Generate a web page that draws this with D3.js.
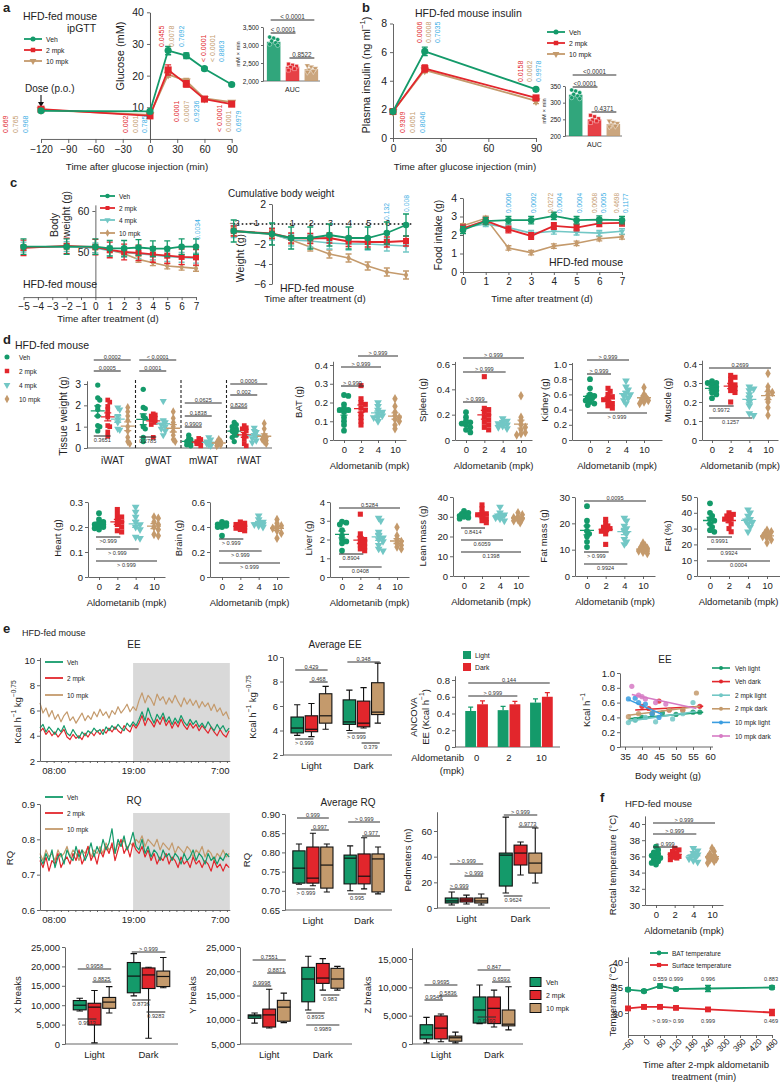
<!DOCTYPE html>
<html>
<head>
<meta charset="utf-8">
<script src="https://cdn.jsdelivr.net/npm/d3@7"></script>
<style>
  body { margin: 0; background: #fff; }
  svg { display: block; }
</style>
</head>
<body>
<script>
// ================= data =================
// a  ipGTT (glucose, mM)
const gttTime = [-120, 0, 20, 40, 60, 90]
const gttVeh = [8.9, 8.7, 27.9, 26.3, 22.2, 17.2]
const gttVehSem = [0.4, 0.4, 1.3, 0.9, 0.5, 0.4]
const gttMpk2 = [9.4, 7.3, 21.8, 17.4, 12.6, 11.0]
const gttMpk2Sem = [0.5, 0.4, 1.6, 1.0, 0.6, 0.6]
const gttMpk10 = [9.2, 7.6, 20.4, 18.3, 12.8, 11.6]
const gttMpk10Sem = [0.4, 0.4, 0.9, 0.8, 0.5, 0.5]
const gttPvals = [
  ['0.669', '0.765', '0.968'], ['0.002', '0.001', '0.785'], ['0.0455', '0.0078', '0.7692'],
  ['0.0001', '0.0007', '0.9236'], ['< 0.0001', '< 0.0001', '0.8863'], ['< 0.0001', '0.0001', '0.6979']
]
const aucGroups = ['Veh', '2 mpk', '10 mpk']
const aucGluMean = [3090, 2400, 2330]
const aucGluPts = [[3220, 3190, 3150, 3110, 3060, 3020, 2990], [2470, 2440, 2410, 2380, 2340, 2300], [2430, 2390, 2350, 2310, 2270, 2250]]
const aucGluP = ['< 0.0001', '< 0.0001', '0.8522']

// b  plasma insulin
const insTime = [0, 20, 90]
const insVeh = [1.85, 6.05, 3.4]
const insVehSem = [0.12, 0.3, 0.1]
const insMpk2 = [1.85, 4.85, 2.8]
const insMpk2Sem = [0.1, 0.25, 0.15]
const insMpk10 = [1.85, 4.75, 2.6]
const insMpk10Sem = [0.1, 0.2, 0.2]
const insPvals = [['0.9309', '0.6051', '0.8046'], ['0.0006', '0.0008', '0.7035'], ['0.0158', '0.0062', '0.9978']]
const aucInsMean = [324, 250, 236]
const aucInsPts = [[338, 335, 330, 325, 320, 315, 312], [262, 258, 252, 248, 245, 240], [245, 241, 238, 233, 230, 228]]
const aucInsP = ['<0.0001', '<0.0001', '0.4371']

// c  body weight / cumulative / food intake
const bwDays = [-5, -2, 0, 1, 2, 3, 4, 5, 6, 7]
const bwVeh = [51.3, 51.3, 51.3, 50.9, 50.9, 51.1, 50.8, 50.8, 51.3, 51.3]
const bwMpk2 = [51.0, 51.5, 51.2, 50.5, 50.0, 49.8, 49.4, 49.1, 48.8, 48.7]
const bwMpk4 = [51.2, 51.3, 51.0, 50.3, 49.9, 49.6, 49.3, 48.9, 48.7, 48.5]
const bwMpk10 = [51.1, 51.3, 51.2, 50.5, 49.6, 48.2, 47.4, 46.6, 46.3, 46.0]
const bwSem = [1.9, 1.9, 1.2, 0.7]
const cumDays = [-2, 0, 1, 2, 3, 4, 5, 6, 7]
const cumVeh = [-0.7, -1.0, -1.4, -1.4, -1.1, -1.4, -1.4, -0.9, -0.1]
const cumMpk2 = [-0.7, -0.95, -1.4, -1.45, -1.4, -1.75, -1.8, -1.8, -1.7]
const cumMpk4 = [-0.75, -1.0, -1.6, -1.7, -1.9, -2.0, -2.0, -2.1, -2.2]
const cumMpk10 = [-0.75, -1.0, -1.6, -2.3, -3.0, -3.4, -4.2, -4.8, -5.1]
const cumSem = [1.1, 0.5, 0.6, 0.4]
const foodDays = [0, 1, 2, 3, 4, 5, 6, 7]
const foodVeh = [2.27, 2.75, 2.8, 2.8, 3.03, 2.8, 2.83, 2.8]
const foodMpk2 = [2.36, 2.77, 2.3, 1.95, 2.49, 2.4, 2.63, 2.66]
const foodMpk4 = [2.4, 2.6, 2.4, 2.1, 2.2, 2.15, 2.1, 2.2]
const foodMpk10 = [2.5, 2.9, 1.3, 1.05, 1.4, 1.55, 1.8, 1.9]
const foodSem = [0.2, 0.18, 0.15, 0.12]
const foodPvals = [['0.0006'], ['0.0002'], ['0.0272', '0.0004'], ['0.0004'], ['0.0058', '0.0005'], ['0.4698', '0.1177']]

// d  organ weights, groups 0 / 2 / 4 / 10 mpk
const doseLabels = ['0', '2', '4', '10']
const tissueGroups = ['iWAT', 'gWAT', 'mWAT', 'rWAT']
const iwatPts = [[2.95, 2.35, 2.25, 1.95, 1.8, 1.5, 1.05, 1.0, 0.8], [2.25, 2.15, 1.95, 1.8, 1.6, 1.45, 1.05, 1.0, 0.75, 0.55], [1.9, 1.8, 1.5, 1.35, 1.2, 0.9, 0.85], [1.9, 1.7, 1.5, 1.3, 1.0, 0.8, 0.5, 0.3, 0.2]]
const gwatPts = [[2.75, 1.9, 1.85, 1.5, 1.4, 1.0, 0.9, 0.5, 0.3], [1.6, 1.55, 1.5, 1.4, 1.3, 1.2, 1.1, 0.5], [2.2, 1.3, 1.2, 1.1, 1.0, 0.9, 0.8, 0.6], [1.7, 1.4, 1.2, 1.0, 0.8, 0.6, 0.4, 0.3]]
const mwatPts = [[0.6, 0.45, 0.4, 0.3, 0.25, 0.2, 0.15, 0.1], [0.45, 0.4, 0.3, 0.25, 0.2, 0.2, 0.1], [0.5, 0.4, 0.3, 0.2, 0.2, 0.15, 0.1], [0.4, 0.3, 0.25, 0.2, 0.15, 0.1]]
const rwatPts = [[1.2, 1.1, 1.0, 0.9, 0.8, 0.8, 0.7, 0.6, 0.5, 0.3], [1.05, 0.95, 0.9, 0.8, 0.6, 0.55, 0.4, 0.2, 0.1], [0.95, 0.8, 0.75, 0.6, 0.55, 0.45, 0.35, 0.25], [1.15, 0.9, 0.6, 0.5, 0.4, 0.35, 0.3, 0.2]]
const tissueP = ['0.0002', '0.0005', '0.3651', '< 0.0001', '0.0001', '0.2785', '0.0625', '0.1838', '0.9909', '0.0006', '0.002', '0.8266']
const batPts = [[0.24, 0.235, 0.19, 0.17, 0.16, 0.16, 0.15, 0.12, 0.1, 0.08, 0.05], [0.29, 0.22, 0.2, 0.19, 0.17, 0.16, 0.14, 0.12, 0.1, 0.08], [0.2, 0.18, 0.16, 0.15, 0.14, 0.13, 0.12, 0.12, 0.1], [0.22, 0.18, 0.15, 0.13, 0.12, 0.11, 0.1, 0.08, 0.06]]
const spleenPts = [[0.22, 0.18, 0.15, 0.14, 0.13, 0.12, 0.1, 0.08, 0.06], [0.5, 0.25, 0.24, 0.22, 0.2, 0.18, 0.16, 0.14, 0.12, 0.1, 0.08], [0.17, 0.15, 0.14, 0.13, 0.12, 0.11, 0.1, 0.09], [0.35, 0.18, 0.15, 0.12, 0.1, 0.08, 0.06, 0.05, 0.04]]
const kidneyPts = [[0.8, 0.68, 0.6, 0.58, 0.56, 0.55, 0.52, 0.5, 0.48, 0.46], [0.68, 0.64, 0.6, 0.57, 0.55, 0.53, 0.5, 0.48, 0.45, 0.42], [0.78, 0.7, 0.66, 0.62, 0.6, 0.58, 0.55, 0.52, 0.48], [0.69, 0.6, 0.56, 0.54, 0.52, 0.5, 0.48]]
const musclePts = [[0.31, 0.3, 0.3, 0.29, 0.28, 0.27, 0.26, 0.25, 0.24, 0.22], [0.34, 0.33, 0.32, 0.3, 0.29, 0.28, 0.27, 0.26, 0.25, 0.2], [0.28, 0.27, 0.26, 0.24, 0.22, 0.2, 0.18, 0.14, 0.13], [0.35, 0.28, 0.26, 0.25, 0.24, 0.22, 0.2, 0.17, 0.13]]
const heartPts = [[0.255, 0.23, 0.22, 0.215, 0.21, 0.21, 0.205, 0.2, 0.195, 0.19], [0.27, 0.25, 0.24, 0.23, 0.22, 0.21, 0.2, 0.185, 0.18], [0.28, 0.26, 0.24, 0.22, 0.21, 0.2, 0.19, 0.16, 0.155], [0.24, 0.235, 0.22, 0.21, 0.2, 0.19, 0.17, 0.165]]
const brainPts = [[0.44, 0.43, 0.42, 0.42, 0.41, 0.41, 0.4, 0.4, 0.33], [0.44, 0.43, 0.42, 0.41, 0.4, 0.39, 0.38, 0.37], [0.49, 0.46, 0.44, 0.43, 0.42, 0.42, 0.41, 0.4], [0.46, 0.43, 0.41, 0.4, 0.39, 0.37, 0.35, 0.31]]
const liverPts = [[2.95, 2.9, 2.8, 2.5, 2.2, 2.0, 1.9, 1.8, 1.4], [3.35, 2.3, 2.1, 2.0, 1.9, 1.8, 1.7, 1.6, 1.5, 1.4], [3.15, 3.0, 2.4, 2.2, 2.1, 2.0, 1.9, 1.7, 1.5, 1.4], [2.65, 2.2, 2.0, 1.9, 1.8, 1.7, 1.6, 1.5]]
const leanPts = [[33, 32, 31.5, 31, 30.5, 30, 29.5, 29], [36, 34, 32, 31.5, 31, 30, 29, 28, 27], [35, 32, 31, 30.5, 30, 29.5, 29, 28], [32, 31, 30, 29.5, 29, 28.5, 28, 27]]
const fatMassPts = [[26.5, 21, 19, 17, 16, 15, 13, 11], [21.5, 20, 19, 18.5, 18, 17.5, 17, 16, 12], [22, 21, 19, 18, 17, 16, 14, 13, 12], [12.5, 11.5, 11, 10.5, 10, 9.5, 9, 8.5, 9.5]]
const fatPctPts = [[46, 40, 38, 36, 35, 33, 31, 29, 28], [40, 39, 38, 37, 36, 35, 33, 30, 28], [42, 40, 38, 36, 35, 34, 33, 31, 28], [29, 28, 27, 26, 25, 24, 23, 21]]
const batP = ['> 0.999', '> 0.999', '> 0.999']
const spleenP = ['> 0.999', '> 0.999', '> 0.999']
const kidneyP = ['> 0.999', '> 0.999', '> 0.999']
const muscleP = ['0.2699', '0.9972', '0.1257']
const heartP = ['>0.999', '> 0.999', '> 0.999']
const brainP = ['> 0.999', '> 0.999', '> 0.999']
const liverP = ['0.5284', '0.8904', '0.0408']
const leanP = ['0.8414', '0.6059', '0.1398']
const fatMassP = ['0.0095', '> 0.999', '0.9924']
const fatPctP = ['0.9991', '0.9924', '0.0004']

// e  indirect calorimetry (traces from 06:06 to 08:18 next day)
const eeVeh = [4.6, 4.9, 4.3, 4.7, 4.4, 4.1, 4.6, 4.3, 4.8, 4.2, 4.0, 4.5, 4.1, 3.8, 4.3, 4.0, 4.4, 4.2, 4.6, 4.3, 4.5, 4.1, 4.7, 4.4, 4.8, 4.5, 4.9, 4.6, 4.4, 5.0, 4.7, 5.1, 4.8, 5.3, 5.9, 5.2, 6.2, 5.5, 5.0, 5.7, 5.3, 5.8, 5.1, 5.5, 4.9, 5.4, 5.0, 5.6, 5.1, 4.8, 5.3, 4.9, 5.2, 4.7, 5.0, 4.6, 5.1, 4.7, 4.4, 4.9, 4.5, 4.8, 4.3, 4.6]
const eeMpk2 = [4.3, 4.6, 4.1, 4.4, 4.0, 4.3, 3.9, 4.2, 4.5, 3.9, 3.7, 4.1, 3.8, 4.0, 3.7, 4.2, 3.9, 4.3, 4.0, 4.4, 4.1, 4.5, 4.2, 4.6, 4.3, 4.7, 4.4, 4.2, 4.8, 4.5, 4.3, 4.9, 4.6, 5.0, 5.6, 4.8, 5.4, 5.1, 4.7, 5.3, 4.9, 5.5, 4.8, 5.2, 4.6, 5.1, 4.7, 5.3, 4.8, 4.5, 5.0, 4.6, 4.9, 4.4, 4.8, 4.5, 4.2, 4.7, 4.3, 4.0, 4.5, 4.1, 3.9, 4.4]
const eeMpk10 = [6.6, 5.8, 6.2, 5.5, 6.0, 5.3, 5.7, 5.1, 5.6, 5.9, 5.2, 5.5, 5.0, 5.4, 5.8, 5.2, 5.6, 5.3, 5.9, 5.5, 6.1, 5.6, 5.9, 5.4, 6.0, 5.7, 6.3, 5.8, 6.1, 6.5, 5.9, 6.3, 6.0, 6.8, 7.4, 6.6, 7.2, 6.9, 6.4, 7.3, 6.8, 7.1, 6.5, 7.0, 6.6, 7.2, 6.7, 6.3, 7.0, 6.5, 6.9, 6.4, 6.8, 6.2, 6.7, 6.3, 6.6, 6.0, 6.5, 5.9, 6.2, 5.6, 5.9, 5.3]
const rqVeh = [0.75, 0.73, 0.76, 0.74, 0.77, 0.72, 0.75, 0.76, 0.73, 0.77, 0.75, 0.74, 0.78, 0.75, 0.77, 0.74, 0.76, 0.79, 0.75, 0.78, 0.76, 0.80, 0.77, 0.79, 0.83, 0.76, 0.80, 0.78, 0.81, 0.77, 0.79, 0.82, 0.78, 0.77, 0.80, 0.76, 0.78, 0.75, 0.77, 0.76, 0.74, 0.77, 0.75, 0.76, 0.74, 0.76, 0.75, 0.73, 0.76, 0.74, 0.75, 0.77, 0.74, 0.76, 0.75, 0.73, 0.76, 0.74, 0.75, 0.73, 0.75, 0.74, 0.76, 0.75]
const rqMpk2 = [0.74, 0.72, 0.75, 0.71, 0.74, 0.73, 0.76, 0.72, 0.74, 0.75, 0.73, 0.76, 0.74, 0.77, 0.73, 0.75, 0.78, 0.74, 0.76, 0.73, 0.77, 0.75, 0.78, 0.76, 0.79, 0.74, 0.77, 0.80, 0.76, 0.78, 0.75, 0.79, 0.77, 0.76, 0.78, 0.75, 0.77, 0.74, 0.76, 0.73, 0.75, 0.74, 0.76, 0.73, 0.75, 0.74, 0.72, 0.75, 0.73, 0.74, 0.72, 0.75, 0.73, 0.74, 0.72, 0.74, 0.73, 0.71, 0.74, 0.72, 0.73, 0.71, 0.73, 0.72]
const rqMpk10 = [0.76, 0.74, 0.77, 0.75, 0.76, 0.74, 0.77, 0.75, 0.76, 0.78, 0.75, 0.77, 0.76, 0.74, 0.77, 0.76, 0.78, 0.75, 0.77, 0.76, 0.78, 0.76, 0.79, 0.77, 0.78, 0.76, 0.79, 0.78, 0.80, 0.77, 0.79, 0.78, 0.80, 0.79, 0.81, 0.78, 0.80, 0.79, 0.78, 0.80, 0.77, 0.79, 0.78, 0.77, 0.79, 0.76, 0.78, 0.77, 0.76, 0.78, 0.77, 0.75, 0.77, 0.76, 0.78, 0.75, 0.77, 0.76, 0.74, 0.76, 0.75, 0.77, 0.75, 0.76]
const traceStartHour = 6.1, traceEndHour = 32.3
// box stats: [min, q1, median, q3, max]; Light Veh, 2, 10 then Dark Veh, 2, 10
const avgEEBox = [[3.6, 3.8, 4.2, 5.1, 6.1], [3.5, 3.9, 4.1, 5.2, 6.2], [4.1, 4.6, 5.2, 7.0, 7.6], [4.0, 4.5, 4.7, 6.5, 7.3], [4.2, 4.3, 4.6, 6.4, 7.5], [4.6, 5.3, 5.5, 7.9, 9.5]]
const avgEEP = ['0.429', '0.468', '0.348', '> 0.999', '> 0.999', '0.379']
const ancovaDose = ['0', '2', '10']
const ancovaLight = [0.43, 0.44, 0.53]
const ancovaLightSem = [0.045, 0.045, 0.045]
const ancovaDark = [0.51, 0.51, 0.60]
const ancovaDarkSem = [0.04, 0.035, 0.05]
const ancovaP = ['0.144', '> 0.999']
const eeScatterNames = ['Veh light', 'Veh dark', '2 mpk light', '2 mpk dark', '10 mpk light', '10 mpk dark']
const eeScatterPts = [
  [[38, 0.37], [40, 0.40], [43, 0.45], [46, 0.46], [50, 0.44], [55, 0.47], [57, 0.47]],
  [[40, 0.55], [42, 0.52], [45, 0.62], [48, 0.50], [52, 0.50], [57, 0.55]],
  [[36, 0.33], [38, 0.36], [41, 0.40], [44, 0.34], [49, 0.38], [52, 0.45], [55, 0.60]],
  [[36, 0.41], [39, 0.45], [43, 0.46], [48, 0.50], [52, 0.50], [56, 0.73]],
  [[36, 0.65], [38, 0.66], [39, 0.60], [41, 0.58], [43, 0.45], [45, 0.40]],
  [[37, 0.82], [39, 0.70], [40, 0.68], [41, 0.65], [44, 0.60], [47, 0.58]]
]
const eeScatterFit = [[36, 0.38, 58, 0.47], [38, 0.50, 58, 0.55], [36, 0.35, 56, 0.48], [36, 0.43, 57, 0.55], [36, 0.64, 46, 0.44], [37, 0.71, 56, 0.52]]
const avgRQBox = [[0.717, 0.72, 0.759, 0.804, 0.822], [0.713, 0.72, 0.733, 0.814, 0.85], [0.697, 0.707, 0.767, 0.814, 0.822], [0.70, 0.718, 0.785, 0.793, 0.817], [0.705, 0.718, 0.738, 0.796, 0.838], [0.692, 0.697, 0.783, 0.796, 0.814]]
const avgRQP = ['0.999', '0.997', '> 0.999', '0.977', '> 0.999', '0.995']
const pedBox = [[2.3, 3.9, 5.5, 7.8, 12.5], [3.1, 4.7, 6.2, 7.8, 10], [2.3, 3.9, 5.5, 7.8, 10.9], [11.7, 17.1, 41.2, 42.8, 70.8], [25.7, 33.5, 42.8, 49, 51.4], [19.5, 27.2, 35, 42.8, 62.3]]
const pedP = ['> 0.999', '> 0.999', '> 0.999', '> 0.999', '0.9773', '0.9624']
const xBreakBox = [[8500, 8800, 10000, 11200, 11800], [300, 4900, 9500, 10500, 13800], [8000, 9200, 10800, 12000, 14800], [12400, 13200, 17500, 21000, 23300], [1500, 14300, 17800, 19600, 19800], [14500, 14800, 17400, 18800, 22300]]
const xBreakP = ['0.9958', '0.8825', '0.9913', '> 0.999', '0.8736', '0.9283']
const yBreakBox = [[9300, 10300, 10800, 11000, 11400], [8300, 8500, 11000, 12200, 16300], [9400, 9700, 12600, 14000, 15500], [12000, 13700, 18400, 20800, 23100], [16100, 17500, 18600, 21600, 22600], [16100, 16500, 18400, 20600, 21000]]
const yBreakP = ['0.7551', '0.8871', '0.9998', '0.983', '0.8935', '0.9989']
const zBreakBox = [[200, 900, 1600, 3400, 4700], [400, 900, 2800, 4950, 5300], [200, 500, 1100, 1400, 2100], [3600, 3700, 6000, 8300, 10400], [3000, 3600, 6300, 8300, 9500], [2500, 3200, 3500, 6000, 10100]]
const zBreakP = ['0.9695', '0.5836', '0.9549', '0.847', '0.6593', '0.9993']

// f  temperatures
const rectalPts = [[37.2, 36.8, 36.5, 36.3, 36.1, 36.0, 35.8, 35.6, 35.4, 35.2, 35.0], [37.0, 36.8, 36.6, 36.4, 36.2, 36.1, 36.0, 35.9, 35.8, 35.6], [37.0, 36.7, 36.4, 36.2, 36.0, 35.9, 35.7, 35.5, 35.3], [37.0, 36.6, 36.3, 36.1, 35.9, 35.8, 35.7, 35.6, 35.4, 35.2]]
const rectalP = ['> 0.999', '> 0.999', '> 0.999']
const tempTime = [-60, 0, 60, 120, 240, 480]
const batTemp = [34.6, 34.3, 35.3, 34.7, 34.8, 35.0]
const batTempSem = [0.3, 0.3, 0.4, 0.3, 0.6, 0.3]
const surfTemp = [30.9, 31.2, 31.2, 31.0, 30.7, 30.1]
const surfTempSem = [0.3, 0.4, 0.3, 0.3, 0.3, 0.6]
const batTempP = ['0.559', '0.999', '0.996', '0.883']
const surfTempP = ['> 0.99', '> 0.99', '0.999', '0.469']
const tempPTimes = [60, 120, 240, 480]

// ================= helpers =================
const FONT = "'Liberation Sans', Arial, Helvetica, sans-serif"
const GREEN = '#149a6a', RED = '#e2262c', TAN = '#c49a6c', TEAL = '#72c7c5', BLUE = '#3aaee4'
const LBLUE = '#3a9de0', PINK = '#d67ac4', INK = '#222', AX = '#555'
const doseColors = [GREEN, RED, TEAL, TAN]
const doseShapes = ['circle', 'square', 'tri', 'diamond']
const trioColors = [GREEN, RED, TAN]

const svg = d3.select('body').append('svg')
  .attr('width', 780).attr('height', 1084)
  .attr('font-family', FONT)

// linear scale through two read-off reference points
function lin(v0, p0, v1, p1, lo, hi) {
  const k = (p1 - p0) / (v1 - v0)
  return d3.scaleLinear().domain([lo, hi]).range([p0 + (lo - v0) * k, p0 + (hi - v0) * k])
}

function label(x, y, s, o = {}) {
  const fs = o.fs || 10
  const t = svg.append('text').attr('x', x).attr('y', y)
    .attr('font-size', fs).attr('fill', o.fill || INK)
    .attr('text-anchor', o.anchor || 'start')
  if (o.bold) t.attr('font-weight', 'bold')
  if (o.rot) t.attr('transform', `rotate(${o.rot},${x},${y})`)
  if (o.central) t.attr('dominant-baseline', 'central')
  if (Array.isArray(s)) {
    let cur = 0
    s.forEach(([str, sup]) => {
      const want = sup ? -fs * 0.4 : 0
      t.append('tspan').attr('dy', want - cur).attr('font-size', sup ? fs * 0.7 : fs).text(str)
      cur = want
    })
  } else t.text(s)
  return t
}

function dress(g, fs) {
  g.attr('font-family', FONT).attr('font-size', fs)
  g.selectAll('.domain').attr('stroke', AX).attr('stroke-width', 0.9)
  g.selectAll('.tick line').attr('stroke', AX).attr('stroke-width', 0.9)
  g.selectAll('.tick text').attr('fill', INK)
  return g
}
function yAxis(x, scale, vals, fmt, fs = 10, size = 3, pad = 2) {
  return dress(svg.append('g').attr('transform', `translate(${x},0)`)
    .call(d3.axisLeft(scale).tickValues(vals).tickFormat(fmt).tickSize(size).tickSizeOuter(0).tickPadding(pad)), fs)
}
function xAxis(y, scale, vals, fmt, fs = 10, size = 3, pad = 2) {
  return dress(svg.append('g').attr('transform', `translate(0,${y})`)
    .call(d3.axisBottom(scale).tickValues(vals).tickFormat(fmt).tickSize(size).tickSizeOuter(0).tickPadding(pad)), fs)
}
const num = d => (d < 0 ? '\u2212' + Math.abs(d) : String(d))
const f1 = d3.format('.1f'), f2 = d3.format('.2f'), fc = d3.format(',')

const SYM = { circle: d3.symbolCircle, square: d3.symbolSquare, tri: d3.symbolTriangle, diamond: d3.symbolDiamond }
function mark(shape, x, y, size, color) {
  return svg.append('path')
    .attr('d', d3.symbol().type(SYM[shape]).size(size)())
    .attr('transform', `translate(${x},${y})${shape === 'tri' ? ' rotate(180)' : ''}`)
    .attr('fill', color)
}

function series(xs, ys, sem, xS, yS, color, shape, size, lw = 1.8) {
  svg.append('path').datum(xs.map((x, i) => [xS(x), yS(ys[i])]))
    .attr('d', d3.line()).attr('fill', 'none').attr('stroke', color).attr('stroke-width', lw)
  xs.forEach((x, i) => {
    const cx = xS(x)
    if (sem) {
      const e = Array.isArray(sem) ? sem[i] : sem
      const y1 = yS(ys[i] - e), y2 = yS(ys[i] + e)
      svg.append('path').attr('d', `M${cx},${y1}V${y2}M${cx - 3},${y1}H${cx + 3}M${cx - 3},${y2}H${cx + 3}`)
        .attr('stroke', color).attr('stroke-width', 1.3).attr('fill', 'none')
    }
    mark(shape, cx, yS(ys[i]), size, color)
  })
}

function pvals(texts, xs, yBottom, colors, fs = 7) {
  texts.forEach((s, i) => label(xs[i], yBottom, s, { fs, fill: colors[i], rot: -90, central: true }))
}

function lineLegend(x, ys, names, colors, shapes, fs = 7, len = 18, size = 20) {
  names.forEach((n, i) => {
    svg.append('line').attr('x1', x).attr('x2', x + len).attr('y1', ys[i]).attr('y2', ys[i])
      .attr('stroke', colors[i]).attr('stroke-width', 1.8)
    if (shapes) mark(shapes[i], x + len / 2, ys[i], size, colors[i])
    label(x + len + 4, ys[i], n, { fs, central: true })
  })
}

function bracket(x1, x2, y, s, below, fs = 5.6) {
  svg.append('line').attr('x1', x1).attr('x2', x2).attr('y1', y).attr('y2', y)
    .attr('stroke', '#333').attr('stroke-width', 1.1)
  label((x1 + x2) / 2, below ? y + fs + 0.6 : y - 1.5, s, { fs, anchor: 'middle', fill: '#333' })
}

// compact deterministic beeswarm column with mean +/- SEM
function dotColumn(vals, cx, yS, color, shape, size = 24, r = 2.6, maxOff = 5) {
  const placed = []
  const offs = [0]
  for (let k = 1; k * r * 0.8 <= maxOff + 0.01; k++) offs.push(k * r * 0.8, -k * r * 0.8)
  vals.slice().sort((a, b) => b - a).forEach(v => {
    const y = yS(v)
    let best = 0, bestD = -1
    for (const off of offs) {
      const d = placed.length ? d3.min(placed, p => Math.hypot(p[0] - off, p[1] - y)) : Infinity
      if (d >= r * 1.25) { best = off; bestD = d; break }
      if (d > bestD) { bestD = d; best = off }
    }
    placed.push([best, y])
    mark(shape, cx + best, y, size, color)
  })
  const m = d3.mean(vals), se = d3.deviation(vals) / Math.sqrt(vals.length)
  const ym = yS(m), y1 = yS(m - se), y2 = yS(m + se)
  svg.append('path')
    .attr('d', `M${cx - 7},${ym}H${cx + 7}M${cx},${y1}V${y2}M${cx - 3.5},${y1}H${cx + 3.5}M${cx - 3.5},${y2}H${cx + 3.5}`)
    .attr('stroke', color).attr('stroke-width', 1.3).attr('fill', 'none')
}

function boxplot(cx, w, s, yS, color) {
  const [mn, q1, md, q3, mx] = s
  svg.append('path')
    .attr('d', `M${cx},${yS(mn)}V${yS(q1)}M${cx},${yS(q3)}V${yS(mx)}M${cx - w / 4},${yS(mn)}H${cx + w / 4}M${cx - w / 4},${yS(mx)}H${cx + w / 4}`)
    .attr('stroke', '#111').attr('stroke-width', 1.1).attr('fill', 'none')
  svg.append('rect').attr('x', cx - w / 2).attr('y', yS(q3)).attr('width', w).attr('height', yS(q1) - yS(q3))
    .attr('fill', color).attr('stroke', '#111').attr('stroke-width', 1.1)
  svg.append('line').attr('x1', cx - w / 2).attr('x2', cx + w / 2).attr('y1', yS(md)).attr('y2', yS(md))
    .attr('stroke', '#111').attr('stroke-width', 1.2)
}

// light/dark grouped box panel
function boxPanel(p) {
  const phase = d3.scaleBand().domain(['Light', 'Dark']).range([p.x0, p.x1]).paddingInner(0.15).paddingOuter(0.12)
  const inner = d3.scaleBand().domain(aucGroups).range([0, phase.bandwidth()]).padding(0.12)
  const cx = (i) => phase(i < 3 ? 'Light' : 'Dark') + inner(aucGroups[i % 3]) + inner.bandwidth() / 2
  yAxis(p.x0, p.yS, p.ticks, p.fmt, p.fs || 9.5)
  svg.append('line').attr('x1', p.x0).attr('x2', p.x1).attr('y1', p.base).attr('y2', p.base).attr('stroke', AX).attr('stroke-width', 0.9)
  p.stats.forEach((s, i) => boxplot(cx(i), inner.bandwidth(), s, p.yS, trioColors[i % 3]))
  ;['Light', 'Dark'].forEach(ph => label(phase(ph) + phase.bandwidth() / 2, p.base + 14, ph, { fs: 9.5, anchor: 'middle' }))
  p.br.forEach(([i, j, y, below], k) => bracket(cx(i) - 2, cx(j) + 2, y, p.plabels[k], below))
  return cx
}

// dose (0/2/4/10 mpk) dot-plot panel
function dosePanel(p) {
  const step = (p.x1 - p.x0) / 3
  const xS = d3.scalePoint().domain(doseLabels).range([p.axisX, p.x1 + (p.x0 - p.axisX)]).padding((p.x0 - p.axisX) / step)
  yAxis(p.axisX, p.yS, p.ticks, p.fmt, 9.5)
  xAxis(p.base, xS, doseLabels, d => d, 9.5, 3, 3)
  p.pts.forEach((vals, i) => dotColumn(vals, xS(doseLabels[i]), p.yS, doseColors[i], doseShapes[i], 26, 2.7, 5.5))
  p.br.forEach(([i, j, y, below], k) => bracket(xS(doseLabels[i]) - 3, xS(doseLabels[j]) + 3, y, p.plabels[k], below))
  label(p.titleX, p.titleY, p.title, { fs: 9.5, rot: -90, anchor: 'middle', central: true })
  label((p.x0 + p.x1) / 2, p.base + 29, 'Aldometanib (mpk)', { fs: 9.5, anchor: 'middle' })
}

// ================= panel a =================
label(3, 12, 'a', { fs: 13, bold: true })
label(23, 20, 'HFD-fed mouse', { fs: 10.5 })
label(67, 32, 'ipGTT', { fs: 10.5 })
lineLegend(24, [39, 50, 61], aucGroups, trioColors, ['circle', 'square', 'tri'], 6.8)
label(25, 92, 'Dose (p.o.)', { fs: 10 })
svg.append('path').attr('d', 'M41,95V103').attr('stroke', '#111').attr('stroke-width', 1.1)
svg.append('path').attr('d', 'M38,102L41,107L44,102Z').attr('fill', '#111')

const gx = d3.scaleLinear().domain([-120, 90]).range([41, 231.7])
const gy = lin(10, 107.3, 40, 12.3, 0, 40)
xAxis(gy(0), gx, d3.range(-120, 91, 30), num, 10, 4, 3)
yAxis(gx(0), gy, [10, 20, 30, 40], num, 10.5, 3, 3).select('.domain').attr('stroke-width', 1)
label(120, 56, 'Glucose (mM)', { fs: 11, rot: -90, anchor: 'middle', central: true })
label(137, 170, 'Time after glucose injection (min)', { fs: 9.7, anchor: 'middle' })
series(gttTime, gttMpk10, gttMpk10Sem, gx, gy, TAN, 'tri', 34)
series(gttTime, gttMpk2, gttMpk2Sem, gx, gy, RED, 'square', 50)
series(gttTime, gttVeh, gttVehSem, gx, gy, GREEN, 'circle', 40)
const gttPx = [[5, 15, 25], [125, 135, 144], [161, 171, 181], [176, 186, 196], [203, 212, 221], [219, 228, 238]]
const gttPy = [133, 133, 47, 122, 62, 132]
gttPvals.forEach((t, i) => pvals(t, gttPx[i], gttPy[i], [RED, TAN, BLUE]))

function aucInset(x0, x1, yS, ticks, means, pts, pl, br, axisLabelX, aucY) {
  const band = d3.scaleBand().domain(aucGroups).range([x0 + 2, x1]).paddingInner(0.28).paddingOuter(0.1)
  yAxis(x0, yS, ticks, fc, 6.5, 2, 2)
  const base = yS.range()[0]
  svg.append('line').attr('x1', x0).attr('x2', x1).attr('y1', base).attr('y2', base).attr('stroke', AX).attr('stroke-width', 0.8)
  const shapes = ['circle', 'square', 'tri']
  means.forEach((m, i) => {
    const bx = band(aucGroups[i]), w = band.bandwidth(), c = bx + w / 2
    svg.append('rect').attr('x', bx).attr('y', yS(m)).attr('width', w).attr('height', base - yS(m))
      .attr('fill', trioColors[i]).attr('fill-opacity', 0.88)
    const offs = [-4, 0, 4, -2, 2, -4, 4]
    pts[i].forEach((v, k) => mark(shapes[i], c + offs[k % offs.length], yS(v), 14, trioColors[i]).attr('stroke', '#fff').attr('stroke-width', 0.4))
  })
  const c = i => band(aucGroups[i]) + band.bandwidth() / 2
  br.forEach(([i, j, y], k) => bracket(c(i) - 3, c(j) + 3, y, pl[k], false, 6.3))
  label(axisLabelX, (yS.range()[0] + yS.range()[1]) / 2, 'mM \u00d7 min', { fs: 5.8, rot: -90, anchor: 'middle', central: true })
  label((x0 + x1) / 2 + 1, aucY, 'AUC', { fs: 7, anchor: 'middle' })
}
aucInset(263, 320, lin(2000, 81, 3500, 27, 2000, 3500), [2000, 2500, 3000, 3500], aucGluMean, aucGluPts, aucGluP,
  [[0, 2, 20], [0, 1, 33], [1, 2, 58]], 238, 92)

// ================= panel b =================
label(362, 12, 'b', { fs: 13, bold: true })
label(415, 17, 'HFD-fed mouse insulin', { fs: 10.5 })
const bx = lin(0, 393, 90, 536, 0, 90)
const by = lin(0, 138, 8, 23.5, 0, 8)
xAxis(by(0), bx, [0, 30, 60, 90], num, 10, 4, 3)
yAxis(393, by, [0, 2, 4, 6, 8], num, 10.5, 3, 3)
label(366, 75, [['Plasma insulin (ng ml', false], ['\u22121', true], [')', false]], { fs: 11, rot: -90, anchor: 'middle', central: true })
label(465, 170, 'Time after glucose injection (min)', { fs: 9.7, anchor: 'middle' })
series(insTime, insMpk10, insMpk10Sem, bx, by, TAN, 'tri', 34)
series(insTime, insMpk2, insMpk2Sem, bx, by, RED, 'square', 50)
series(insTime, insVeh, insVehSem, bx, by, GREEN, 'circle', 40)
pvals(insPvals[0], [402, 412, 422], 133, [RED, TAN, BLUE])
pvals(insPvals[1], [419, 428, 437], 43, [RED, TAN, BLUE])
pvals(insPvals[2], [520, 529, 538], 82, [RED, TAN, BLUE])
lineLegend(547, [32, 43, 54], aucGroups, trioColors, ['circle', 'square', 'tri'], 6.8)
aucInset(565, 622, lin(200, 136, 350, 86, 200, 350), [200, 250, 300, 350], aucInsMean, aucInsPts, aucInsP,
  [[0, 2, 75], [0, 1, 87], [1, 2, 112]], 544, 147)

// ================= panel c =================
label(10, 187, 'c', { fs: 13, bold: true })
// c1 body weight
const c1x = lin(-5, 23.5, 7, 196, -5, 7)
const c1y = lin(50, 252, 60, 211, 39, 61.5)
xAxis(c1y(39), c1x, d3.range(-5, 8), num, 10, 3, 3)
yAxis(c1x(0), c1y, [50, 60], num, 10.5, 3, 3)
label(54, 237, 'Body', { fs: 10.5, rot: -90, central: true })
label(66, 237, 'weight (g)', { fs: 10.5, rot: -90, central: true })
label(23, 288, 'HFD-fed mouse', { fs: 10.5 })
label(108, 322, 'Time after treatment (d)', { fs: 9.7, anchor: 'middle' })
const c4names = ['Veh', '2 mpk', '4 mpk', '10 mpk']
lineLegend(100, [196, 208, 220, 233], c4names, doseColors, doseShapes, 6.5, 15, 16)
series(bwDays, bwMpk10, bwSem[3], c1x, c1y, TAN, 'diamond', 18, 1.6)
series(bwDays, bwMpk4, bwSem[2], c1x, c1y, TEAL, 'tri', 18, 1.6)
series(bwDays, bwMpk2, bwSem[1], c1x, c1y, RED, 'square', 36, 1.8)
series(bwDays, bwVeh, bwSem[0], c1x, c1y, GREEN, 'circle', 34, 1.8)
pvals(['0.0034'], [197], 240, [BLUE], 6.8)

// c2 cumulative body weight
label(228, 197, 'Cumulative body weight', { fs: 10 })
const c2x = lin(0, 272, 7, 406, -2, 7.3)
const c2y = lin(0, 224, 2, 204, -6, 2)
yAxis(c2x(0), c2y, [2, -2, -4, -6], num, 10.5, 3, 3)
svg.append('line').attr('x1', c2x(-2)).attr('x2', c2x(7.3)).attr('y1', c2y(0)).attr('y2', c2y(0))
  .attr('stroke', '#111').attr('stroke-width', 1.6).attr('stroke-dasharray', '1.6,2.4')
;[-2, -1, 1, 2, 3, 4, 5, 6].forEach(d => label(c2x(d) + 1, c2y(0) - 1, num(d), { fs: 9, anchor: 'middle', central: true }))
label(240, 258, 'Weight (g)', { fs: 10.5, rot: -90, anchor: 'middle', central: true })
label(280, 292, 'HFD-fed mouse', { fs: 10.5 })
label(315, 302, 'Time after treatment (d)', { fs: 9.7, anchor: 'middle' })
series(cumDays, cumMpk10, cumSem[3], c2x, c2y, TAN, 'diamond', 18, 1.6)
series(cumDays, cumMpk4, cumSem[2], c2x, c2y, TEAL, 'tri', 18, 1.6)
series(cumDays, cumMpk2, cumSem[1], c2x, c2y, RED, 'square', 36, 1.8)
series(cumDays, cumVeh, cumSem[0], c2x, c2y, GREEN, 'circle', 34, 1.8)
pvals(['0.132'], [c2x(6)], 220, [BLUE], 6.8)
pvals(['0.008'], [c2x(7)], 212, [BLUE], 6.8)

// c3 food intake
const c3x = lin(0, 463, 7, 622, 0, 7)
const c3y = lin(0, 272, 4, 198, 0, 4)
xAxis(272, c3x, d3.range(0, 8), num, 10, 3, 3)
yAxis(463, c3y, [0, 1, 2, 3, 4], num, 10.5, 3, 3)
label(438, 235, 'Food intake (g)', { fs: 10.5, rot: -90, anchor: 'middle', central: true })
label(623, 266, 'HFD-fed mouse', { fs: 10.5, anchor: 'end' })
label(542, 302, 'Time after treatment (d)', { fs: 9.7, anchor: 'middle' })
series(foodDays, foodMpk10, foodSem[3], c3x, c3y, TAN, 'diamond', 18, 1.6)
series(foodDays, foodMpk4, foodSem[2], c3x, c3y, TEAL, 'tri', 18, 1.6)
series(foodDays, foodMpk2, foodSem[1], c3x, c3y, RED, 'square', 36, 1.8)
series(foodDays, foodVeh, foodSem[0], c3x, c3y, GREEN, 'circle', 34, 1.8)
const foodPx = [[508], [533], [550, 559], [579], [594, 603], [616, 625]]
const foodPc = [[BLUE], [BLUE], [TAN, BLUE], [BLUE], [TAN, BLUE], [TAN, BLUE]]
foodPvals.forEach((t, i) => pvals(t, foodPx[i], 213, foodPc[i], 6.6))

// ================= panel d =================
label(3, 344, 'd', { fs: 13, bold: true })
label(15, 349, 'HFD-fed mouse', { fs: 10.5 })
c4names.forEach((n, i) => {
  mark(doseShapes[i], 7, 357 + i * 14, 20, doseColors[i])
  label(19, 357 + i * 14, n, { fs: 6.5, central: true })
})
// tissue weights
const d1y = lin(0, 448, 3, 384, 0, 3.15)
yAxis(87, d1y, [0, 1, 2, 3], num, 10.5, 3, 3)
svg.append('line').attr('x1', 87).attr('x2', 272).attr('y1', 448).attr('y2', 448).attr('stroke', AX).attr('stroke-width', 0.9)
const tg = d3.scaleBand().domain(tissueGroups).range([90, 272])
const tin = d3.scalePoint().domain(doseLabels).range([-15, 15])
;[iwatPts, gwatPts, mwatPts, rwatPts].forEach((grp, g) => {
  const gc = tg(tissueGroups[g]) + tg.bandwidth() / 2
  grp.forEach((vals, i) => dotColumn(vals, gc + tin(doseLabels[i]), d1y, doseColors[i], doseShapes[i], 22, 2.5, 3))
  label(gc, 464, tissueGroups[g], { fs: 10, anchor: 'middle' })
  if (g > 0) svg.append('line').attr('x1', tg(tissueGroups[g])).attr('x2', tg(tissueGroups[g]))
    .attr('y1', 380).attr('y2', 448).attr('stroke', '#222').attr('stroke-width', 1.1).attr('stroke-dasharray', '3,2')
})
label(63, 416, 'Tissue weight (g)', { fs: 10.5, rot: -90, anchor: 'middle', central: true })
const tisBr = [[0, 3, 360, false], [0, 2, 371, false], [0, 1, 436, true], [0, 3, 360, false], [0, 2, 371, false], [0, 1, 437, true],
  [0, 3, 403, false], [0, 2, 416, false], [0, 1, 427, false], [0, 3, 384, false], [0, 2, 395, false], [0, 1, 408, false]]
tisBr.forEach(([i, j, y, below], k) => {
  const gc = tg(tissueGroups[Math.floor(k / 3)]) + tg.bandwidth() / 2
  bracket(gc + tin(doseLabels[i]) - 4, gc + tin(doseLabels[j]) + 3, y, tissueP[k], below)
})

dosePanel({ axisX: 333, x0: 344, x1: 395, base: 440, yS: lin(0, 440, 0.4, 365, 0, 0.42), ticks: [0, 0.1, 0.2, 0.3, 0.4], fmt: d => d === 0 ? '0' : f1(d),
  pts: batPts, title: 'BAT (g)', titleX: 298, titleY: 402, br: [[0, 1, 386, false], [0, 2, 367, false], [1, 3, 356, false]], plabels: batP })
dosePanel({ axisX: 455, x0: 466, x1: 521, base: 440, yS: lin(0, 440, 0.6, 364, 0, 0.62), ticks: [0, 0.2, 0.4, 0.6], fmt: d => d === 0 ? '0' : f1(d),
  pts: spleenPts, title: 'Spleen (g)', titleX: 422, titleY: 400, br: [[0, 3, 358, false], [0, 2, 372, false], [0, 1, 402, false]], plabels: spleenP })
dosePanel({ axisX: 572, x0: 590, x1: 644, base: 440, yS: lin(0, 440, 1.0, 364, 0, 1.02), ticks: [0, 0.2, 0.4, 0.6, 0.8, 1.0], fmt: d => d === 0 ? '0' : f1(d),
  pts: kidneyPts, title: 'Kidney (g)', titleX: 544, titleY: 400, br: [[0, 2, 360, false], [0, 1, 374, false], [0, 3, 413, true]], plabels: kidneyP })
dosePanel({ axisX: 702, x0: 712, x1: 768, base: 440, yS: lin(0, 440, 0.4, 364, 0, 0.42), ticks: [0, 0.1, 0.2, 0.3, 0.4], fmt: d => d === 0 ? '0' : f1(d),
  pts: musclePts, title: 'Muscle (g)', titleX: 667, titleY: 400, br: [[0, 3, 368, false], [0, 1, 406, true], [0, 2, 418, true]], plabels: muscleP })
dosePanel({ axisX: 88, x0: 99, x1: 154, base: 577, yS: lin(0, 577, 0.3, 502, 0, 0.3), ticks: [0, 0.1, 0.2, 0.3], fmt: d => d === 0 ? '0' : f1(d),
  pts: heartPts, title: 'Heart (g)', titleX: 57, titleY: 538, br: [[0, 1, 537, true], [0, 2, 549, true], [0, 3, 561, true]], plabels: heartP })
dosePanel({ axisX: 210, x0: 222, x1: 277, base: 577, yS: lin(0, 577, 0.6, 502, 0, 0.6), ticks: [0, 0.2, 0.4, 0.6], fmt: d => d === 0 ? '0' : f1(d),
  pts: brainPts, title: 'Brain (g)', titleX: 178, titleY: 538, br: [[0, 1, 539, true], [0, 2, 551, true], [0, 3, 563, true]], plabels: brainP })
dosePanel({ axisX: 330, x0: 342, x1: 397, base: 577, yS: lin(0, 577, 4, 502, 0, 4), ticks: [0, 1, 2, 3, 4], fmt: num,
  pts: liverPts, title: 'Liver (g)', titleX: 308, titleY: 538, br: [[0, 3, 508, false], [0, 1, 554, true], [0, 2, 567, true]], plabels: liverP })
dosePanel({ axisX: 453, x0: 464, x1: 518, base: 576, yS: lin(0, 576, 40, 497, 0, 40), ticks: [0, 10, 20, 30, 40], fmt: num,
  pts: leanPts, title: 'Lean mass (g)', titleX: 422, titleY: 536, br: [[0, 1, 528, true], [0, 2, 540, true], [0, 3, 552, true]], plabels: leanP })
dosePanel({ axisX: 575, x0: 587, x1: 643, base: 576, yS: lin(0, 576, 30, 497, 0, 30), ticks: [0, 10, 20, 30], fmt: num,
  pts: fatMassPts, title: 'Fat mass (g)', titleX: 543, titleY: 536, br: [[0, 3, 501, false], [0, 1, 552, true], [0, 2, 564, true]], plabels: fatMassP })
dosePanel({ axisX: 697, x0: 710, x1: 767, base: 576, yS: lin(0, 576, 50, 497, 0, 50), ticks: [0, 10, 20, 30, 40, 50], fmt: num,
  pts: fatPctPts, title: 'Fat (%)', titleX: 667, titleY: 536, br: [[0, 1, 537, true], [0, 2, 549, true], [0, 3, 561, true]], plabels: fatPctP })

// ================= panel e =================
label(3, 633, 'e', { fs: 13, bold: true })
label(22, 636, 'HFD-fed mouse', { fs: 9 })
const traceHours = eeVeh.map((_, i) => traceStartHour + i * (traceEndHour - traceStartHour) / (eeVeh.length - 1))
const tX = lin(8, 53.7, 19, 133.1, 6.1, 32.4)
const clockFmt = h => (h === 8 ? '08:00' : h === 19 ? '19:00' : h === 31 ? '7:00' : '')
function tracePanel(yS, top, base, ticks, fmt, sets, title, titleY, legendYs) {
  svg.append('rect').attr('x', tX(19)).attr('y', top).attr('width', tX(32.4) - tX(19)).attr('height', base - top).attr('fill', '#d9d9d9')
  sets.forEach(([vals, color]) => {
    svg.append('path').datum(vals.map((v, i) => [tX(traceHours[i]), yS(v)]))
      .attr('d', d3.line()).attr('fill', 'none').attr('stroke', color).attr('stroke-width', 1.2).attr('stroke-linejoin', 'round')
  })
  xAxis(base, tX, d3.range(7, 33), clockFmt, 9.5, 2, 4)
  yAxis(tX(6.1), yS, ticks, fmt, 9.5)
  label(134, titleY, title, { fs: 10, anchor: 'middle' })
  lineLegend(45, legendYs, ['Veh', '2 mpk', '10 mpk'], trioColors, null, 6.5, 18)
}
const eeY = lin(2, 761, 10, 660, 2, 10.2)
tracePanel(eeY, 663, 761, [2, 4, 6, 8, 10], num, [[eeMpk10, TAN], [eeMpk2, RED], [eeVeh, GREEN]], 'EE', 648, [662, 678, 695])
label(17, 712, [['Kcal h', false], ['\u22121', true], [' kg', false], ['\u22120.75', true]], { fs: 9.5, rot: -90, anchor: 'middle', central: true })
const rqY = lin(0.6, 910, 0.9, 804, 0.6, 0.9)
tracePanel(rqY, 813, 910, [0.6, 0.7, 0.8, 0.9], f1, [[rqMpk10, TAN], [rqMpk2, RED], [rqVeh, GREEN]], 'RQ', 804, [797, 813, 829])
label(9, 858, 'RQ', { fs: 9.5, rot: -90, anchor: 'middle', central: true })

// average EE
label(335, 648, 'Average EE', { fs: 10, anchor: 'middle' })
boxPanel({ x0: 283, x1: 392, base: 755, yS: lin(2, 755, 10, 657, 2, 10), ticks: [2, 4, 6, 8, 10], fmt: num, stats: avgEEBox,
  br: [[0, 2, 670, false], [1, 2, 682, false], [3, 5, 662, false], [0, 1, 739, true], [3, 4, 733, true], [4, 5, 743, true]], plabels: avgEEP })
label(252, 707, [['Kcal h', false], ['\u22121', true], [' kg', false], ['\u22120.75', true]], { fs: 9.5, rot: -90, anchor: 'middle', central: true })

// ANCOVA EE
const ancY = lin(0, 747, 0.8, 680, 0, 0.85)
const ancX = d3.scaleBand().domain(ancovaDose).range([462, 556]).paddingInner(0.3).paddingOuter(0.1)
yAxis(455, ancY, [0, 0.2, 0.4, 0.6, 0.8], d => d === 0 ? '0' : f1(d), 9.5)
svg.append('line').attr('x1', 455).attr('x2', 560).attr('y1', 747).attr('y2', 747).attr('stroke', AX).attr('stroke-width', 0.9)
ancovaDose.forEach((d, i) => {
  const x0 = ancX(d), w = ancX.bandwidth() / 2 - 0.5
  ;[[ancovaLight[i], ancovaLightSem[i], GREEN, x0], [ancovaDark[i], ancovaDarkSem[i], RED, x0 + w + 1]].forEach(([v, e, c, x]) => {
    svg.append('rect').attr('x', x).attr('y', ancY(v)).attr('width', w).attr('height', 747 - ancY(v)).attr('fill', c)
    const cx = x + w / 2
    svg.append('path').attr('d', `M${cx},${ancY(v)}V${ancY(v + e)}M${cx - 2.5},${ancY(v + e)}H${cx + 2.5}`).attr('stroke', c).attr('stroke-width', 1.3)
  })
  label(ancX(d) + ancX.bandwidth() / 2, 761, d, { fs: 9.5, anchor: 'middle' })
})
label(464, 761, 'Aldometanib', { fs: 9.5, anchor: 'end' })
label(452, 774, '(mpk)', { fs: 9.5, anchor: 'middle' })
bracket(ancX('0') + 3, ancX('10') + ancX.bandwidth() - 3, 683, ancovaP[0], false)
bracket(ancX('0') + 3, ancX('2') + ancX.bandwidth() - 3, 696, ancovaP[1], false)
;[['Light', GREEN, 655], ['Dark', RED, 667]].forEach(([n, c, y]) => {
  svg.append('rect').attr('x', 463).attr('y', y - 4).attr('width', 8).attr('height', 8).attr('fill', c)
  label(475, y, n, { fs: 6.8, central: true })
})
label(413, 717, 'ANCOVA', { fs: 9.5, rot: -90, anchor: 'middle', central: true })
label(425, 717, [['EE (Kcal h', false], ['\u22121', true], [')', false]], { fs: 9.5, rot: -90, anchor: 'middle', central: true })

// EE vs body weight
label(665, 663, 'EE', { fs: 10, anchor: 'middle' })
const scX = lin(35, 625, 60, 710, 32.5, 61)
const scY = lin(0, 747, 1.0, 673, 0, 1.0)
yAxis(620, scY, [0, 0.2, 0.4, 0.6, 0.8, 1.0], d => d === 0 ? '0' : f1(d), 9.5)
svg.append('line').attr('x1', 620).attr('x2', 713).attr('y1', 747).attr('y2', 747).attr('stroke', AX).attr('stroke-width', 0.9)
xAxis(747, lin(35, 625, 60, 710, 35, 60), [35, 40, 45, 50, 55, 60], num, 9.5, 3, 3).select('.domain').remove()
label(668, 779, 'Body weight (g)', { fs: 9.5, anchor: 'middle' })
label(586, 710, [['Kcal h', false], ['\u22121', true]], { fs: 9.5, rot: -90, anchor: 'middle', central: true })
const scColors = [GREEN, RED, TEAL, TAN, LBLUE, PINK]
eeScatterPts.forEach((pts, g) => {
  const [xa, ya, xb, yb] = eeScatterFit[g]
  pts.forEach(([bw, v]) => svg.append('circle').attr('cx', scX(bw)).attr('cy', scY(v)).attr('r', 2.6).attr('fill', scColors[g]).attr('fill-opacity', 0.85))
  svg.append('line').attr('x1', scX(xa)).attr('y1', scY(ya)).attr('x2', scX(xb)).attr('y2', scY(yb)).attr('stroke', scColors[g]).attr('stroke-width', 1.6)
})
eeScatterNames.forEach((n, i) => {
  const y = 668 + i * 13.6
  svg.append('line').attr('x1', 712).attr('x2', 730).attr('y1', y).attr('y2', y).attr('stroke', scColors[i]).attr('stroke-width', 1.6)
  svg.append('circle').attr('cx', 721).attr('cy', y).attr('r', 2).attr('fill', scColors[i])
  label(735, y, n, { fs: 6.5, central: true })
})

// average RQ
label(348, 806, 'Average RQ', { fs: 10, anchor: 'middle' })
boxPanel({ x0: 285, x1: 392, base: 910, yS: lin(0.65, 910, 0.9, 814, 0.65, 0.9), ticks: [0.65, 0.7, 0.75, 0.8, 0.85, 0.9], fmt: f2, stats: avgRQBox,
  br: [[0, 2, 818, false], [1, 2, 830, false], [3, 5, 822, false], [4, 5, 836, false], [0, 1, 889, true], [3, 4, 894, true]], plabels: avgRQP })
label(246, 860, 'RQ', { fs: 9.5, rot: -90, anchor: 'middle', central: true })

// pedometers
boxPanel({ x0: 437, x1: 550, base: 908, yS: lin(0, 908, 60, 831, 0, 75), ticks: [0, 20, 40, 60], fmt: num, stats: pedBox,
  br: [[0, 2, 864, false], [1, 2, 876, false], [0, 1, 889, false], [3, 5, 815, false], [4, 5, 827, false], [3, 4, 896, true]], plabels: pedP })
label(407, 860, 'Pedmeters (m)', { fs: 9.5, rot: -90, anchor: 'middle', central: true })

// X / Y / Z breaks
boxPanel({ x0: 65, x1: 178, base: 1044, yS: lin(0, 1044, 25000, 947, 0, 25000), ticks: d3.range(0, 25001, 5000), fmt: fc, stats: xBreakBox,
  br: [[0, 2, 969, false], [1, 2, 982, false], [0, 1, 1019, true], [3, 5, 952, false], [3, 4, 1000, true], [4, 5, 1012, true]], plabels: xBreakP })
label(17, 995, 'X breaks', { fs: 9.5, rot: -90, anchor: 'middle', central: true })
boxPanel({ x0: 240, x1: 352, base: 1044, yS: lin(5000, 1044, 25000, 947, 5000, 25000), ticks: d3.range(5000, 25001, 5000), fmt: fc, stats: yBreakBox,
  br: [[0, 2, 960, false], [1, 2, 973, false], [0, 1, 986, false], [4, 5, 995, true], [3, 4, 1013, true], [3, 5, 1025, true]], plabels: yBreakP })
label(192, 995, 'Y breaks', { fs: 9.5, rot: -90, anchor: 'middle', central: true })
boxPanel({ x0: 412, x1: 523, base: 1044, yS: lin(0, 1044, 15000, 959, 0, 17000), ticks: [0, 5000, 10000, 15000], fmt: fc, stats: zBreakBox,
  br: [[0, 2, 985, false], [1, 2, 996, false], [0, 1, 1000, false], [3, 5, 970, false], [4, 5, 982, false], [3, 4, 1017, true]], plabels: zBreakP })
label(367, 995, 'Z breaks', { fs: 9.5, rot: -90, anchor: 'middle', central: true })
aucGroups.forEach((n, i) => {
  const y = 982 + i * 13
  svg.append('rect').attr('x', 530).attr('y', y - 4.5).attr('width', 11).attr('height', 9).attr('fill', trioColors[i]).attr('stroke', '#111').attr('stroke-width', 1)
  label(546, y, n, { fs: 7, central: true })
})

// ================= panel f =================
label(600, 802, 'f', { fs: 13, bold: true })
label(625, 807, 'HFD-fed mouse', { fs: 9.5 })
dosePanel({ axisX: 645, x0: 656, x1: 712, base: 905, yS: lin(30, 905, 40, 824, 30, 41), ticks: [30, 32, 34, 36, 38, 40], fmt: num,
  pts: rectalPts, title: 'Rectal temperature (\u00b0C)', titleX: 612, titleY: 865, br: [[0, 1, 847, false], [0, 2, 834, false], [0, 3, 823, false]], plabels: rectalP })

const tTx = lin(-60, 628, 480, 772, -60, 480)
const tTy = lin(30, 1013, 40, 962, 25.6, 41)
yAxis(628, tTy, [30, 35, 40], num, 9.5)
const tAx = xAxis(1035, tTx, d3.range(-60, 481, 60), num, 8.5, 3, 2)
tAx.selectAll('.tick text').attr('text-anchor', 'end').attr('dy', '0.5em').attr('dx', '-0.1em')
  .attr('transform', 'rotate(-45)')
label(612, 1000, 'Temperature (\u00b0C)', { fs: 9.5, rot: -90, anchor: 'middle', central: true })
label(706, 1068, 'Time after 2-mpk aldometanib', { fs: 9.5, anchor: 'middle' })
label(704, 1080, 'treatment (min)', { fs: 9.5, anchor: 'middle' })
series(tempTime, surfTemp, surfTempSem, tTx, tTy, RED, 'square', 34, 1.8)
series(tempTime, batTemp, batTempSem, tTx, tTy, GREEN, 'circle', 30, 1.8)
lineLegend(650, [953, 965], ['BAT temperature', 'Surface temperature'], [GREEN, RED], ['circle', 'square'], 6.5, 18, 18)
tempPTimes.forEach((t, i) => {
  const last = i === tempPTimes.length - 1
  const x = last ? 778 : tTx(t), anchor = last ? 'end' : 'middle'
  label(x, 981, batTempP[i], { fs: 5.6, anchor, fill: '#333' })
  label(x, 1023, surfTempP[i], { fs: 5.6, anchor, fill: '#333' })
})
</script>
</body>
</html>
